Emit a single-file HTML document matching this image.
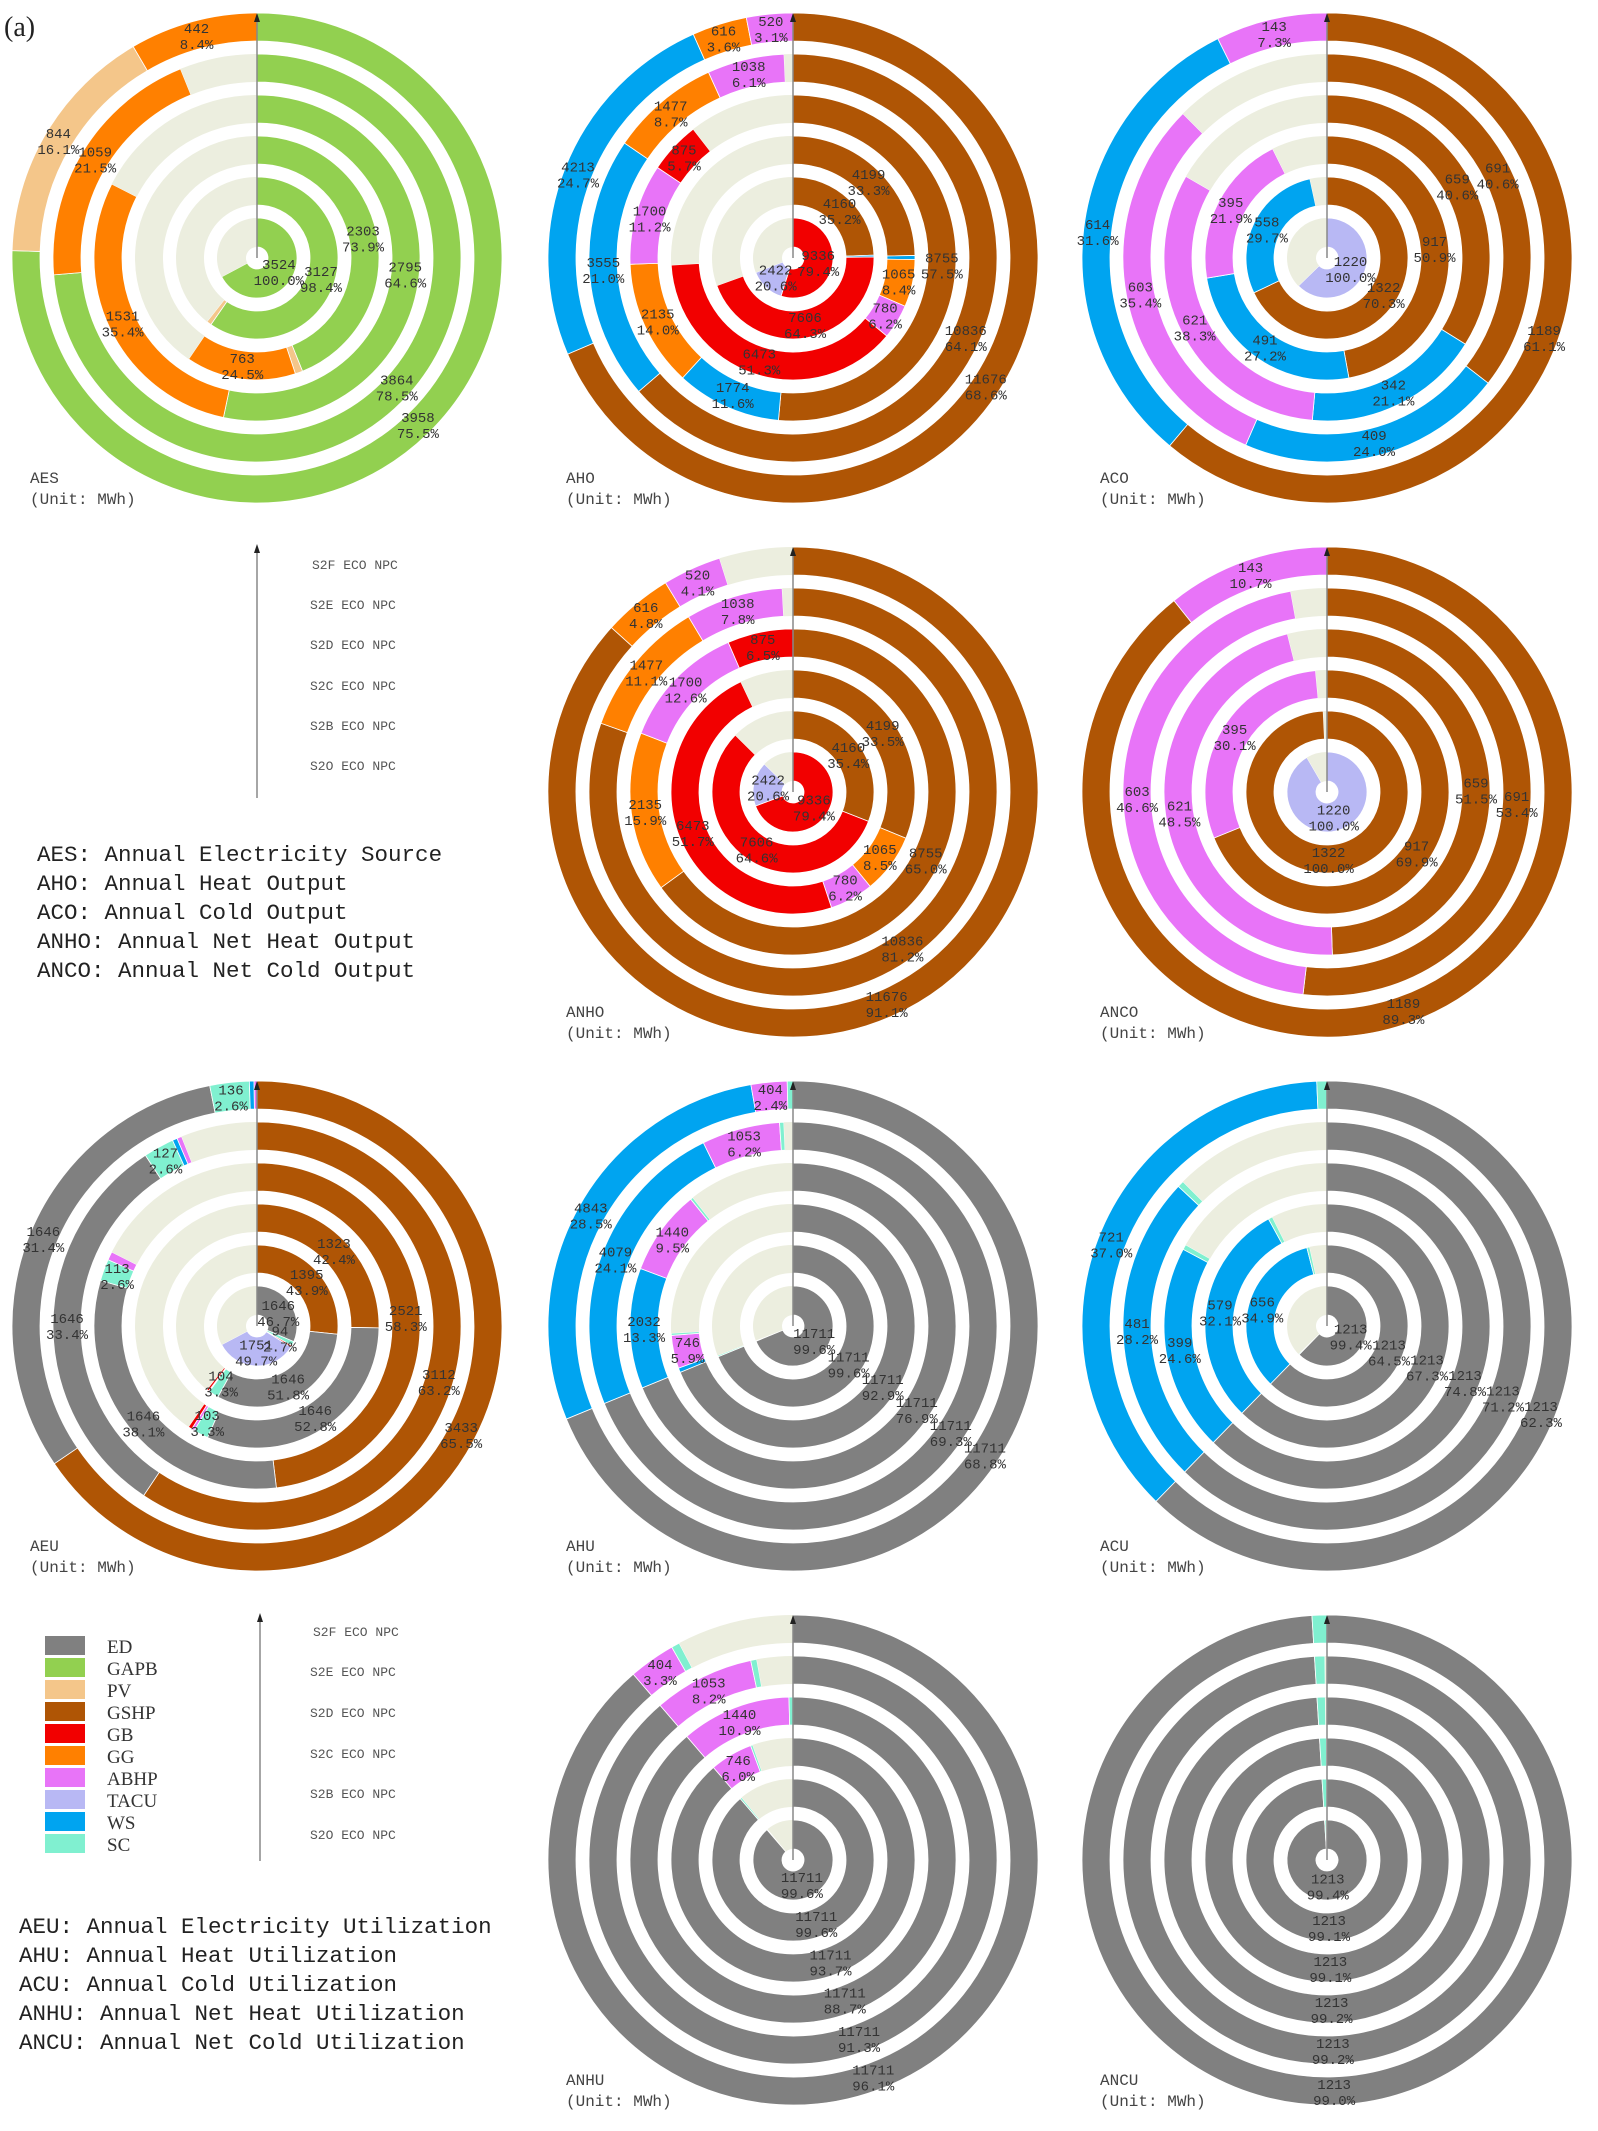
<!DOCTYPE html>
<html><head><meta charset="utf-8">
<style>
html,body{margin:0;padding:0;background:#fff;}
svg{display:block;}
text{font-family:"Liberation Mono","Liberation Serif",monospace;}
</style></head>
<body>
<svg id="fig" width="1598" height="2131" viewBox="0 0 1598 2131" xmlns="http://www.w3.org/2000/svg">
<rect x="0" y="0" width="1598" height="2131" fill="#fff"/>
<text x="4" y="36" font-size="28" fill="#222" style="font-family:'Liberation Serif',serif">(a)</text>

<g>
<line x1="257" y1="798" x2="257" y2="550" stroke="#888" stroke-width="1.5"/>
<polygon points="257,544 254,553 260,553" fill="#222"/>
<g font-size="13" fill="#555">
<text x="312" y="569">S2F ECO NPC</text>
<text x="310" y="609">S2E ECO NPC</text>
<text x="310" y="649">S2D ECO NPC</text>
<text x="310" y="690">S2C ECO NPC</text>
<text x="310" y="730">S2B ECO NPC</text>
<text x="310" y="770">S2O ECO NPC</text>
</g>
</g>
<g font-size="22.5" fill="#222">
<text x="37" y="861">AES: Annual Electricity Source</text>
<text x="37" y="890">AHO: Annual Heat Output</text>
<text x="37" y="919">ACO: Annual Cold Output</text>
<text x="37" y="948">ANHO: Annual Net Heat Output</text>
<text x="37" y="977">ANCO: Annual Net Cold Output</text>
</g>

<g>
<line x1="260" y1="1861" x2="260" y2="1620" stroke="#888" stroke-width="1.5"/>
<polygon points="260,1613 257,1622 263,1622" fill="#222"/>
<g font-size="13" fill="#555">
<text x="313" y="1636">S2F ECO NPC</text>
<text x="310" y="1676">S2E ECO NPC</text>
<text x="310" y="1717">S2D ECO NPC</text>
<text x="310" y="1758">S2C ECO NPC</text>
<text x="310" y="1798">S2B ECO NPC</text>
<text x="310" y="1839">S2O ECO NPC</text>
</g>
</g>
<g id="legend"></g>
<g font-size="22.5" fill="#222">
<text x="19" y="1933">AEU: Annual Electricity Utilization</text>
<text x="19" y="1962">AHU: Annual Heat Utilization</text>
<text x="19" y="1991">ACU: Annual Cold Utilization</text>
<text x="19" y="2020">ANHU: Annual Net Heat Utilization</text>
<text x="19" y="2049">ANCU: Annual Net Cold Utilization</text>
</g>
<g id="charts"></g>
</svg>
<script>
// ---- data (rings ordered inner S2O -> outer S2F) ----
const legendNames = ['ED','GAPB','PV','GSHP','GB','GG','ABHP','TACU','WS','SC'];
const legendColors = ['#808080','#92D050','#F4C68A','#AF5505','#F20000','#FF8000','#E874F8','#B8B8F4','#00A4F0','#80F0D0'];

const aesSeries = ['GAPB','PV','GG'];
const aesValues = [[3524,0,0],[3127,51,0],[2303,52,763],[2795,0,1531],[3864,0,1059],[3958,844,442]];
const ahoSeries = ['GSHP','WS','GG','ABHP','GB','TACU'];
const ahoValues = [[0,0,0,0,9336,2422],[4160,60,0,0,7606,0],[4199,93,1065,780,6473,0],[8755,1774,2135,1700,875,0],[10836,3555,1477,1038,0,0],[11676,4213,616,520,0,0]];
const acoSeries = ['GSHP','WS','ABHP','TACU'];
const acoValues = [[0,0,0,1220],[1322,558,0,0],[917,491,395,0],[659,342,621,0],[691,409,603,0],[1189,614,143,0]];
const anhoSeries = ['GSHP','GG','ABHP','GB','TACU'];
const anhoValues = [[0,0,0,9336,2422],[4160,0,0,7606,0],[4199,1065,780,6473,0],[8755,2135,1700,875,0],[10836,1477,1038,0,0],[11676,616,520,0,0]];
const ancoSeries = ['GSHP','ABHP','TACU'];
const ancoValues = [[0,0,1220],[1322,0,0],[917,395,0],[659,621,0],[691,603,0],[1189,143,0]];
const aeuSeries = ['GSHP','ED','SC','WS','ABHP','GB','TACU'];
const aeuValues = [[0,1646,94,0,0,34,1751],[1395,1646,104,0,10,23,0],[1323,1646,103,0,20,26,0],[2521,1646,113,0,44,0,0],[3112,1646,127,20,20,0,0],[3433,1646,136,16,10,0,0]];
const ahuSeries = ['ED','WS','ABHP','SC'];
const ahuValues = [[11711,0,0,47],[11711,0,0,47],[11711,100,746,49],[11711,2032,1440,45],[11711,4079,1053,57],[11711,4843,404,64]];
const acuSeries = ['ED','WS','SC'];
const acuValues = [[1213,0,7],[1213,656,11],[1213,579,11],[1213,399,10],[1213,481,10],[1213,721,13]];
const anhuSeries = ['ED','ABHP','SC'];
const anhuValues = [[11711,0,47],[11711,0,47],[11711,746,37],[11711,1440,52],[11711,1053,63],[11711,404,72]];
const ancuSeries = ['ED','SC'];
const ancuValues = [[1213,7],[1213,11],[1213,11],[1213,10],[1213,10],[1213,12]];

const chartNames = ['AES','AHO','ACO','ANHO','ANCO','AEU','AHU','ACU','ANHU','ANCU'];
const chartSeries = [aesSeries,ahoSeries,acoSeries,anhoSeries,ancoSeries,aeuSeries,ahuSeries,acuSeries,anhuSeries,ancuSeries];
const chartValues = [aesValues,ahoValues,acoValues,anhoValues,ancoValues,aeuValues,ahuValues,acuValues,anhuValues,ancuValues];

// ---- layout ----
const NS='http://www.w3.org/2000/svg';
const colX=[257,793,1327], rowY=[258,792,1326,1860];
const chartCell=[[0,0],[1,0],[2,0],[1,1],[2,1],[0,2],[1,2],[2,2],[1,3],[2,3]];
const ringOuter=[40,81,122,163,204,245];
const ringInner=[11,53,94,135,176,217];
const FILL='#ECEEDF';
const colorOf = n => legendColors[legendNames.indexOf(n)];

function mk(tag, attrs, parent){
  const e=document.createElementNS(NS,tag);
  for(const k in attrs) e.setAttribute(k,attrs[k]);
  parent.appendChild(e); return e;
}
function pt(cx,cy,r,a){const t=a*Math.PI/180; return [cx+r*Math.sin(t), cy-r*Math.cos(t)];}
function sector(cx,cy,r0,r1,a0,a1){
  if(a1-a0>=359.99){a1=a0+359.99;}
  const large=(a1-a0)>180?1:0;
  const p1=pt(cx,cy,r1,a0),p2=pt(cx,cy,r1,a1),p3=pt(cx,cy,r0,a1),p4=pt(cx,cy,r0,a0);
  return `M${p1[0]},${p1[1]} A${r1},${r1} 0 ${large} 1 ${p2[0]},${p2[1]} L${p3[0]},${p3[1]} A${r0},${r0} 0 ${large} 0 ${p4[0]},${p4[1]} Z`;
}

const root=document.getElementById('charts');
chartNames.forEach((name,ci)=>{
  const cx=colX[chartCell[ci][0]], cy=rowY[chartCell[ci][1]];
  const series=chartSeries[ci], values=chartValues[ci];
  const totals=values.map(r=>r.reduce((a,b)=>a+b,0));
  const maxT=Math.max(...totals);
  const g=mk('g',{},root);
  
  
  const labels=[];
  values.forEach((row,ri)=>{
    const r0=ringInner[ri], r1=ringOuter[ri];
    let acc=0;
    row.forEach((v,si)=>{
      if(v<=0) return;
      const a0=acc/maxT*360, a1=(acc+v)/maxT*360;
      const p=mk('path',{d:sector(cx,cy,r0,r1,a0,a1),fill:colorOf(series[si]),stroke:'#fff','stroke-width':'0.8'},g);
      
      
      const pct=v/totals[ri]*100;
      if(pct>=2){
        const am=(a0+a1)/2, q=pt(cx,cy,(r0+r1)/2,am);
        labels.push([q[0],q[1],String(v),pct.toFixed(1)+'%',ri,series[si]]);
      }
      acc+=v;
    });
    if(acc<maxT-0.5){
      const p=mk('path',{d:sector(cx,cy,r0,r1,acc/maxT*360,360),fill:FILL},g);
      
      
    }
  });
  const ln=mk('line',{x1:cx,y1:cy,x2:cx,y2:cy-ringOuter[5]+6,stroke:'#888','stroke-width':'1.5'},g);
  
  
  const ah=mk('polygon',{points:`${cx},${cy-ringOuter[5]} ${cx-3},${cy-ringOuter[5]+9} ${cx+3},${cy-ringOuter[5]+9}`,fill:'#222'},g);
  
  
  labels.forEach(l=>{
    const t=mk('text',{x:l[0],y:l[1]-2,'text-anchor':'middle','font-size':'14',fill:'#333'},g);
    
    
    t.textContent=l[2];
    const t2=mk('text',{x:l[0],y:l[1]+14,'text-anchor':'middle','font-size':'14',fill:'#333'},g);
    
    
    t2.textContent=l[3];
  });
  const tt=mk('text',{x:cx-227,y:cy+225,'font-size':'16',fill:'#444'},g);
  
  
  tt.textContent=name;
  const tu=mk('text',{x:cx-227,y:cy+246,'font-size':'16',fill:'#444'},g);
  
  
  tu.textContent='(Unit: MWh)';
});

// ---- color legend ----
const lg=document.getElementById('legend');
legendNames.forEach((n,i)=>{
  const y=1636+i*22;
  const r=mk('rect',{x:45,y:y,width:40,height:19,fill:legendColors[i]},lg);
  
  
  const t=mk('text',{x:107,y:y+17,'font-size':'19',fill:'#333',style:"font-family:'Liberation Serif',serif"},lg);
  
  
  t.textContent=n;
});
</script>
</body></html>
